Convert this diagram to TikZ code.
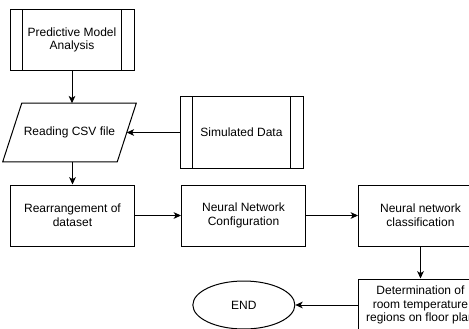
\documentclass[tikz,border=0pt]{standalone}
\usepackage{fontspec}
\setmainfont{Liberation Sans}
\usetikzlibrary{positioning,arrows.meta,shapes.geometric}

\begin{document}
\begin{tikzpicture}[x=0.75pt, y=-0.75pt, >={Stealth[length=5.5pt, width=5pt, inset=1.5pt]},
  font=\fontsize{9}{10.3}\selectfont,
  box/.style={draw, fill=white, line width=0.75pt, minimum width=93pt, minimum height=45.75pt, align=center, inner sep=2pt},
  subproc/.style={box, path picture={
    \draw[line width=0.75pt] ([xshift=9.5pt]path picture bounding box.north west) -- ([xshift=9.5pt]path picture bounding box.south west);
    \draw[line width=0.75pt] ([xshift=-9.5pt]path picture bounding box.north east) -- ([xshift=-9.5pt]path picture bounding box.south east);}},
  io/.style={minimum width=85.5pt, minimum height=43.5pt, align=center, inner sep=1pt},
  slant/.style={line width=0.75pt, fill=white},
  term/.style={draw, fill=white, line width=0.75pt, ellipse, minimum width=76.5pt, minimum height=36pt},
  flow/.style={->, line width=0.75pt}]
  \useasboundingbox (0,0) rectangle (469,329);
  \clip (0,0) rectangle (469,329);
  % top part
  \node[subproc] (pma) at (72,40) {Predictive Model\\Analysis};
  \node[io] (csv) at (69.5,132.5) {};
  \draw[slant] ([xshift=-7.125pt]csv.south west) -- ([xshift=-7.125pt]csv.south east)
    -- ([xshift=7.125pt]csv.north east) -- ([xshift=7.125pt]csv.north west) -- cycle;
  \node[io] (csvtext) at (csv) {Reading CSV file};
  \node[subproc, minimum width=92.25pt, minimum height=54pt] (sim) at (241.5,132.5) {Simulated Data};
  % middle row
  \node[box] (rearr) at (72.5,215.5) {Rearrangement of\\dataset};
  \node[box, right=34.5pt of rearr] (nnconf) {Neural Network\\Configuration};
  \node[box, right=39pt of nnconf] (nnclass) {Neural network\\classification};
  % bottom row
  \node[box, below=24pt of nnclass, minimum height=39pt] (determ) {Determination of\\room temperature\\regions on floor plan};
  \node[term, left=47pt of determ] (end) {END};
  \draw[flow] (pma) -- (pma |- csv.north);
  \draw[flow] (sim) -- (csv);
  \draw[flow] (csv.south -| rearr) -- (rearr);
  \draw[flow] (rearr) -- (nnconf);
  \draw[flow] (nnconf) -- (nnclass);
  \draw[flow] (nnclass) -- (determ);
  \draw[flow] (determ) -- (end);
\end{tikzpicture}
\end{document}
